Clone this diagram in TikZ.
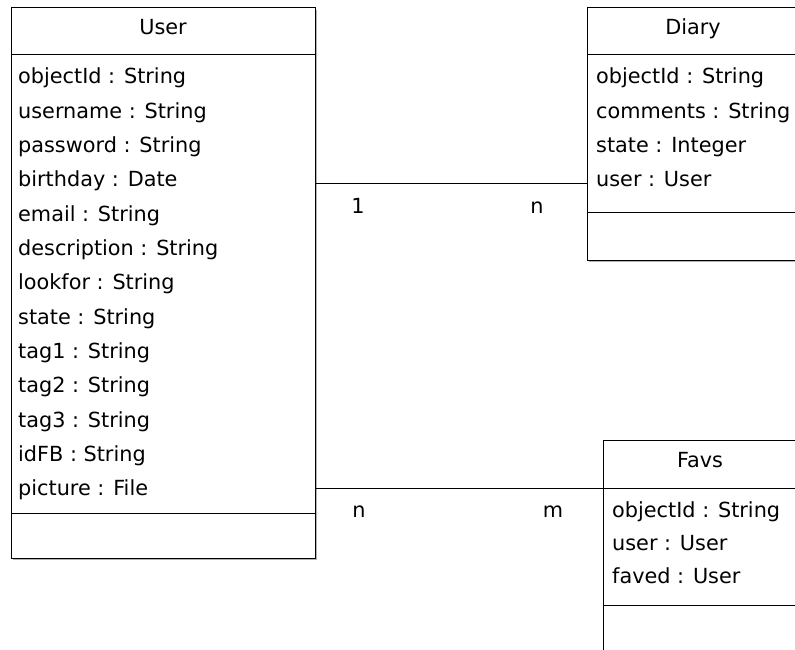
\documentclass[tikz,border=0pt]{standalone}
\usepackage{fontspec}
\setmainfont{DejaVu Sans}
\usetikzlibrary{calc}

\tikzset{
    classbox/.style = {draw = black, line width = 1pt, fill = white,
        inner sep = 0pt, outer sep = 0pt, anchor = north west},
    boxshadow/.style = {fill = black!30, draw = none,
        inner sep = 0pt, outer sep = 0pt, anchor = north west},
    attr/.style = {anchor = base west, inner sep = 0pt,
        font = \fontsize{20.8}{24}\selectfont},
    classtitle/.style = {anchor = base, inner sep = 0pt,
        font = \fontsize{20.8}{24}\selectfont},
    mult/.style = {anchor = base, inner sep = 0pt,
        font = \fontsize{20.8}{24}\selectfont},
    assoc/.style = {draw = black, line width = 1pt}
}

\begin{document}
\begin{tikzpicture}[%
        x = 1pt,
        y = -1pt,
        line cap = rect
    ]

        \useasboundingbox (0, 0) rectangle (795, 650);
        \clip (0, 0) rectangle (795, 650);

        % User class: box, title and compartments.
        \node[boxshadow, minimum width = 304pt, minimum height = 550pt] at (13, 10) {};
        \node[classbox, minimum width = 304pt, minimum height = 550pt] (user) at (11, 8) {};
        \node[classtitle] (usertitle) at ($(user.north) + (0, 27)$) {User};
        \draw[assoc] ($(user.north west) + (0, 47)$) -- ($(user.north east) + (0, 47)$);
        \draw[assoc] ($(user.north west) + (0, 505)$) -- ($(user.north east) + (0, 505)$);
        \foreach \txt [count = \i] in {objectId : String, username : String,
            password : String, birthday : Date, email : String,
            description : String, lookfor : String, state : String,
            tag1 : String, tag2 : String, tag3 : String, idFB : String,
            picture : File}
            \node[attr] (u\i) at (18, {84 + 34.3*(\i - 1)}) {\txt};

        % Diary class.
        \node[boxshadow, minimum width = 212pt, minimum height = 252pt] at (589, 10) {};
        \node[classbox, minimum width = 212pt, minimum height = 252pt] (diary) at (587, 8) {};
        \node[classtitle] (diarytitle) at ($(diary.north) + (0, 27)$) {Diary};
        \draw[assoc] ($(diary.north west) + (0, 47)$) -- ($(diary.north east) + (0, 47)$);
        \draw[assoc] ($(diary.north west) + (0, 204)$) -- ($(diary.north east) + (0, 204)$);
        \foreach \txt [count = \i] in {objectId : String, comments : String,
            state : Integer, user : User}
            \node[attr] (d\i) at (596, {84 + 34.2*(\i - 1)}) {\txt};

        % Favs class.
        \node[boxshadow, minimum width = 194pt, minimum height = 220pt] at (605, 442) {};
        \node[classbox, minimum width = 194pt, minimum height = 220pt] (favs) at (603, 440) {};
        \node[classtitle] (favstitle) at ($(favs.north) + (0, 27)$) {Favs};
        \draw[assoc] ($(favs.north west) + (0, 48)$) -- ($(favs.north east) + (0, 48)$);
        \draw[assoc] ($(favs.north west) + (0, 165)$) -- ($(favs.north east) + (0, 165)$);
        \foreach \txt [count = \i] in {objectId : String, user : User,
            faved : User}
            \node[attr] (f\i) at (612, {517 + 33*(\i - 1)}) {\txt};

        % Associations and their multiplicities.
        \draw[assoc] ($(user.east |- u4.base) + (0, -3)$) -- ($(diary.west |- u4.base) + (0, -3)$);
        \node[mult] (diaryone) at (358, 213) {1};
        \node[mult] (diarymany) at (537, 213) {n};

        \draw[assoc] ($(user.east |- u13.base) + (0, -7)$) -- ($(favs.west |- u13.base) + (0, -7)$);
        \node[mult] (favsn) at (359, 517) {n};
        \node[mult] (favsm) at (553, 517) {m};
    \end{tikzpicture}
\end{document}
